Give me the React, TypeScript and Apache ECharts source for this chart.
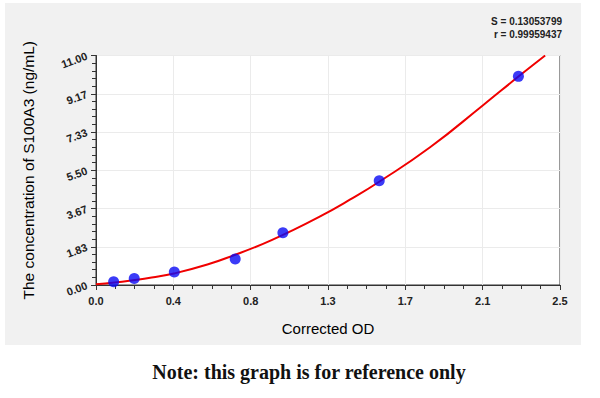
import React, { useEffect, useRef } from "react";
import * as echarts from "echarts";

const xTickLabels = ["0.0", "0.4", "0.8", "1.3", "1.7", "2.1", "2.5"];
const yTickLabels = ["0.00", "1.83", "3.67", "5.50", "7.33", "9.17", "11.00"];
const xMax = 2.5;
const yMax = 11;

// Standards (corrected OD, concentration)
const stdOD = [0.095, 0.206, 0.422, 0.75, 1.007, 1.526, 2.276];
const stdConc = [0.156, 0.3125, 0.625, 1.25, 2.5, 5, 10];

// Fitted curve
const fitOD = [0, 0.1, 0.2, 0.3, 0.42, 0.6, 0.75, 0.9, 1.007, 1.2, 1.37, 1.526, 1.8, 2.087, 2.276, 2.42];
const fitConc = [0.04, 0.12, 0.23, 0.36, 0.55, 0.98, 1.45, 1.97, 2.4, 3.25, 4.1, 4.95, 6.6, 8.63, 9.99, 11.0];

const statS = "S = 0.13053799";
const statR = "r = 0.99959437";
const xTitle = "Corrected OD";
const yTitle = "The concentration of S100A3 (ng/mL)";
const note = "Note: this graph is for reference only";

export default function App() {
  const ref = useRef<HTMLDivElement>(null);
  useEffect(() => {
    if (!ref.current) return;
    const chart = echarts.init(ref.current, null, { renderer: "svg" });
    const xStep = xMax / 6;
    const yStep = yMax / 6;
    chart.setOption({
      animation: false,
      grid: {
        left: 96,
        right: 40,
        top: 55.5,
        bottom: 113,
        show: true,
        backgroundColor: "#ffffff",
        borderColor: "#333333",
        borderWidth: 1,
      },
      xAxis: {
        type: "value",
        min: 0,
        max: xMax,
        interval: xStep,
        name: xTitle,
        nameLocation: "middle",
        nameGap: 36,
        nameTextStyle: { fontFamily: "Liberation Sans, Arial", fontSize: 15, color: "#000" },
        axisLine: { show: true, lineStyle: { color: "#333", width: 1 } },
        axisTick: { show: true, length: 5, lineStyle: { color: "#333" } },
        minorTick: { show: true, splitNumber: 4, length: 4, lineStyle: { color: "#333" } },
        axisLabel: {
          margin: 10,
          fontFamily: "Liberation Sans, Arial",
          fontSize: 11,
          fontWeight: "bold",
          color: "#222",
          formatter: (v: number) => xTickLabels[Math.round(v / xStep)] ?? "",
        },
        splitLine: { show: true, lineStyle: { color: "#ebebeb", width: 1 } },
      },
      yAxis: {
        type: "value",
        min: 0,
        max: yMax,
        interval: yStep,
        name: yTitle,
        nameLocation: "middle",
        nameGap: 60,
        nameTextStyle: { fontFamily: "Liberation Sans, Arial", fontSize: 15.5, color: "#000" },
        axisLine: { show: true, lineStyle: { color: "#333", width: 1 } },
        axisTick: { show: true, length: 5, lineStyle: { color: "#333" } },
        minorTick: { show: true, splitNumber: 5, length: 4, lineStyle: { color: "#333" } },
        axisLabel: {
          margin: 9,
          rotate: 20,
          fontFamily: "Liberation Sans, Arial",
          fontSize: 11,
          fontWeight: "bold",
          color: "#222",
          formatter: (v: number) => yTickLabels[Math.round(v / yStep)] ?? "",
        },
        splitLine: { show: true, lineStyle: { color: "#ebebeb", width: 1 } },
      },
      graphic: [
        {
          type: "rect",
          z: -10,
          shape: { x: 5, y: 3, width: 576, height: 342 },
          style: { fill: "#f1f1f1" },
          silent: true,
        },
        {
          type: "text",
          right: 38,
          top: 16,
          style: {
            text: statS,
            fontFamily: "Liberation Sans, Arial",
            fontSize: 10,
            fontWeight: "bold",
            fill: "#222",
          },
        },
        {
          type: "text",
          right: 38,
          top: 29,
          style: {
            text: statR,
            fontFamily: "Liberation Sans, Arial",
            fontSize: 10,
            fontWeight: "bold",
            fill: "#222",
          },
        },
        {
          type: "text",
          x: 309,
          y: 372,
          style: {
            text: note,
            x: 0,
            y: 0,
            align: "center",
            verticalAlign: "middle",
            fontFamily: "Liberation Serif, Times New Roman, serif",
            fontSize: 20,
            fontWeight: "bold",
            fill: "#111",
          },
        },
      ],
      series: [
        {
          type: "line",
          data: fitOD.map((x, i) => [x, fitConc[i]]),
          smooth: true,
          showSymbol: false,
          clip: true,
          lineStyle: { color: "#f00000", width: 2 },
          z: 3,
        },
        {
          type: "scatter",
          data: stdOD.map((x, i) => [x, stdConc[i]]),
          symbol: "circle",
          symbolSize: 11,
          itemStyle: { color: "#0a0af5" },
          z: 4,
        },
      ],
    });
    return () => chart.dispose();
  }, []);
  return (
    <div
      ref={ref}
      style={{ position: "fixed", left: 0, top: 0, width: 600, height: 398, background: "#fff" }}
    />
  );
}
